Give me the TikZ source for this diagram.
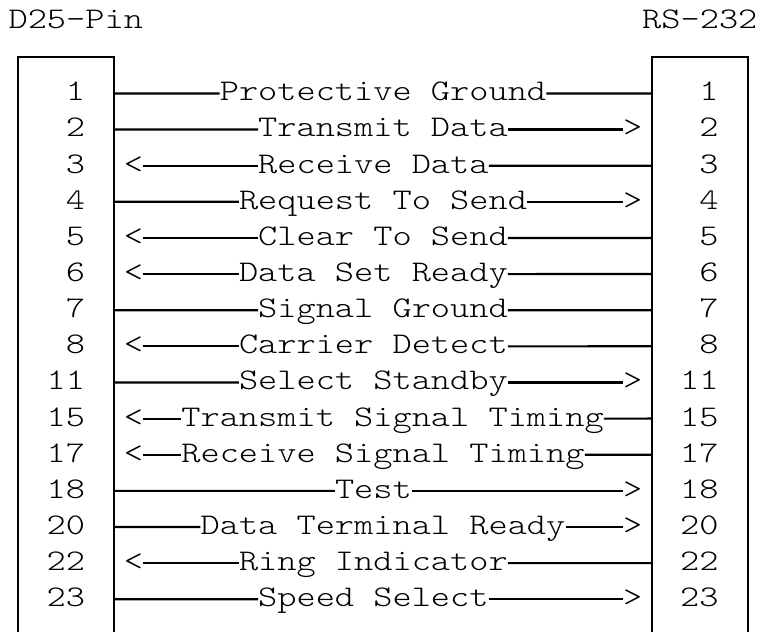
\documentclass[tikz,border=0pt]{standalone}
\usepackage{fontspec}
\newfontfamily\termfont[FakeStretch=1.219]{lmmonolt10-regular.otf}
\begin{document}
\begin{tikzpicture}[x=1pt,y=1pt,
  txt/.style={inner sep=0pt, font=\termfont\fontsize{30}{36}\selectfont, text height=20pt, text depth=5.2pt},
  boxline/.style={line width=2.2pt},
  wire/.style={line width=2.2pt}]
\useasboundingbox (0,0) rectangle (758,632);
% headers
\node[txt, anchor=base west] (hl) at (8.4, 603.4) {D25-Pin};
\node[txt, anchor=base west] (hr) at ({8.4+33*19.2}, 603.4) {RS-232};
% connector boxes
\coordinate (ltl) at (18, 574.7);
\coordinate (ltr) at (114, 574.7);
\coordinate (lbl) at (18, -2);
\coordinate (lbr) at (114, -2);
\coordinate (rtl) at (651.6, 574.7);
\coordinate (rtr) at (747.6, 574.7);
\coordinate (rbl) at (651.6, -2);
\coordinate (rbr) at (747.6, -2);
\draw[boxline] (lbl) -- (ltl) -- (ltr) -- (lbr);
\draw[boxline] (rbl) -- (rtl) -- (rtr) -- (rbr);
% signal rows: row / pin / text / start column / kind (0 none, 1 to right, 2 to left)
\foreach \r/\a/\t/\c/\k in {
  2/1/Protective Ground/11/0,
  3/2/Transmit Data/13/1,
  4/3/Receive Data/13/2,
  5/4/Request To Send/12/1,
  6/5/Clear To Send/13/2,
  7/6/Data Set Ready/12/2,
  8/7/Signal Ground/13/0,
  9/8/Carrier Detect/12/2,
  10/11/Select Standby/12/1,
  11/15/Transmit Signal Timing/9/2,
  12/17/Receive Signal Timing/9/2,
  13/18/Test/17/1,
  14/20/Data Terminal Ready/10/1,
  15/22/Ring Indicator/12/2,
  16/23/Speed Select/13/1}{
  \pgfmathsetmacro\ly{610.83-36.13*\r}
  \pgfmathsetmacro\by{603.4-36.13*\r}
  \pgfmathsetmacro\sx{8.4+\c*19.2}
  \node[txt, anchor=base east] (pl\r) at (85.2, \by) {\a};
  \node[txt, anchor=base east] (pr\r) at (718.8, \by) {\a};
  \node[txt, anchor=base west] (sig\r) at (\sx, \by) {\t};
  \coordinate (el\r) at (114, \ly);
  \coordinate (er\r) at (651.6, \ly);
  \ifnum\k=2
    \node[txt, anchor=base west] (al\r) at ({8.4+6*19.2}, \by) {<};
    \draw[wire] (al\r.east) -- (sig\r.west);
  \else
    \draw[wire] (el\r) -- (sig\r.west);
  \fi
  \ifnum\k=1
    \node[txt, anchor=base west] (ar\r) at ({8.4+32*19.2}, \by) {>};
    \draw[wire] (sig\r.east) -- (ar\r.west);
  \else
    \draw[wire] (sig\r.east) -- (er\r);
  \fi
}
\end{tikzpicture}
\end{document}
